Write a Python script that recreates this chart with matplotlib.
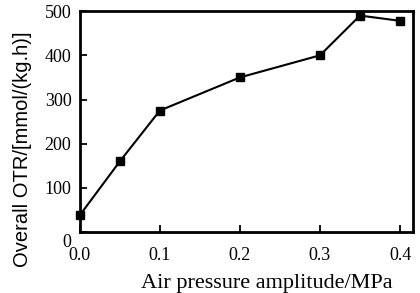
import matplotlib
matplotlib.use('Agg')
import matplotlib.pyplot as plt
import matplotlib.transforms as mtransforms

pressure = [0.0, 0.05, 0.1, 0.2, 0.3, 0.35, 0.4]
otr = [38, 160, 275, 350, 400, 490, 478]
x_ticks = [0.0, 0.1, 0.2, 0.3, 0.4]
y_ticks = [0, 100, 200, 300, 400, 500]

plt.rcParams['font.family'] = ['Liberation Serif', 'DejaVu Serif']

fig = plt.figure(figsize=(4.2, 2.93), dpi=100)
ax = fig.add_axes([0.19, 0.208, 0.793, 0.754])

ax.plot(pressure, otr, color='black', linewidth=1.5, marker='s', markersize=6,
        clip_on=False, zorder=3)

ax.set_xlim(0, 0.416)
ax.set_ylim(0, 500)
ax.set_xticks(x_ticks)
ax.set_xticklabels(['%.1f' % v for v in x_ticks])
ax.set_yticks(y_ticks)
ax.tick_params(direction='in', length=5, width=1.3, labelsize=13, top=False, right=False)
ax.tick_params(axis='x', pad=11)
ax.tick_params(axis='y', pad=6)
for s in ax.spines.values():
    s.set_linewidth(2)

# the "0" on the y axis sits a little below the corner
lbl0 = ax.get_yticklabels()[0]
lbl0.set_transform(lbl0.get_transform() + mtransforms.ScaledTranslation(0, -6 / 72, fig.dpi_scale_trans))

ax.set_xlabel('Air pressure amplitude/MPa', fontsize=16)
ax.xaxis.set_label_coords(0.56, -0.19)
ax.set_ylabel('Overall OTR/[mmol/(kg.h)]', fontsize=14.5,
              family=['Liberation Sans', 'DejaVu Sans'])
ax.yaxis.set_label_coords(-0.144, 0.376)

fig.savefig('out.png', dpi=100)
